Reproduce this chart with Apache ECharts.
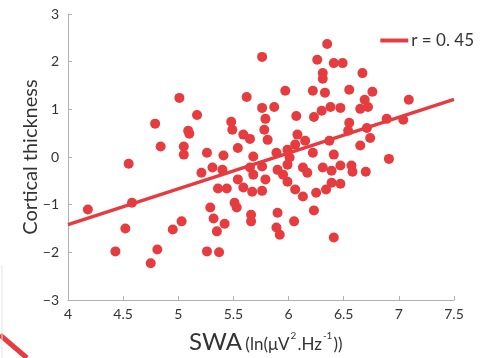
<!DOCTYPE html>
<html>
<head>
<meta charset="utf-8">
<script src="https://cdn.jsdelivr.net/npm/echarts@6/dist/echarts.min.js"></script>
<style>
  html, body { margin: 0; padding: 0; background: #fff; }
  #chart { width: 481px; height: 358px; }
</style>
</head>
<body>
<div id="chart"></div>
<script>
// SWA (x) vs cortical thickness (y)
const swa = [
  4.18, 4.43, 4.52, 4.55, 4.58, 4.75, 4.79, 4.81, 4.84, 4.95,
  5.01, 5.03, 5.05, 5.05, 5.09, 5.10, 5.17, 5.21, 5.26, 5.26,
  5.29, 5.31, 5.32, 5.35, 5.36, 5.37, 5.40, 5.41, 5.42, 5.44,
  5.48, 5.49, 5.51, 5.53, 5.54, 5.54, 5.59, 5.59, 5.62, 5.65,
  5.65, 5.66, 5.66, 5.67, 5.68, 5.68, 5.76, 5.76, 5.76, 5.76,
  5.78, 5.79, 5.79, 5.81, 5.87, 5.89, 5.89, 5.90, 5.90, 5.92,
  5.95, 5.97, 5.99, 5.99, 6.01, 5.99, 6.05, 6.06, 6.06, 6.07,
  6.08, 6.13, 6.13, 6.15, 6.17, 6.22, 6.23, 6.22, 6.23, 6.25,
  6.26, 6.30, 6.31, 6.31, 6.31, 6.33, 6.34, 6.35, 6.37, 6.38,
  6.39, 6.39, 6.41, 6.41, 6.41, 6.47, 6.47, 6.47, 6.49, 6.54,
  6.55, 6.55, 6.57, 6.58, 6.65, 6.65, 6.67, 6.69, 6.70, 6.71,
  6.72, 6.74, 6.76, 6.89, 6.91, 7.04, 7.09
]
const thickness = [
  -1.10, -1.98, -1.50, -0.14, -0.96, -2.23, 0.70, -1.94, 0.22, -1.52,
  1.24, -1.35, 0.22, 0.05, 0.55, 0.49, 0.88, -0.33, 0.09, -1.98,
  -1.06, -0.22, -1.29, -1.56, -0.66, -2.00, -0.27, 0.03, -1.40, -0.66,
  0.74, 0.57, -0.96, -1.06, 0.19, -0.47, 0.47, -0.64, 1.26, 0.38,
  -0.22, -1.21, -1.35, -0.73, 0.01, -0.37, 2.10, 1.03, -0.20, -0.71,
  0.57, 0.80, -0.47, 0.36, 1.05, 0.09, -1.48, -0.27, -1.17, -1.63,
  -0.37, 1.39, -0.52, 0.15, -0.01, -0.16, -1.35, 0.26, -0.68, 0.86,
  0.47, -0.22, -0.83, 0.34, -0.33, 0.09, 0.84, 1.39, -1.12, -0.75,
  2.04, 0.97, 1.76, 1.64, -0.22, 1.35, -0.68, 2.37, 0.34, 1.05,
  -0.29, -0.54, 1.97, 0.05, -1.69, 1.03, -0.18, -0.56, 1.97, 0.55,
  1.41, 0.72, -0.18, -0.31, 1.01, 0.24, 1.76, 1.20, -0.31, 0.61,
  1.05, 0.40, 1.37, 0.80, -0.04, 0.78, 1.20
]
// regression line end points
const fitX = [4, 7.5]
const fitY = [-1.42, 1.21]
const fitName = 'r = 0. 45'

const red = '#e63c3f'
const font = 'Lato'

const chart = echarts.init(document.getElementById('chart'), null, { renderer: 'canvas' })

const option = {
  animation: false,
  backgroundColor: '#fff',
  textStyle: { fontFamily: font },
  grid: { left: 68, right: 27, top: 14, bottom: 58 },
  legend: {
    data: [{ name: fitName, icon: 'rect' }],
    right: 2,
    top: 27,
    itemWidth: 28,
    itemHeight: 4,
    itemGap: 4,
    textStyle: { fontFamily: font, fontSize: 17, color: '#333', padding: [0, 0, 0, -2] }
  },
  xAxis: {
    type: 'value',
    min: 4,
    max: 7.5,
    interval: 0.5,
    axisLine: { onZero: false, lineStyle: { color: '#b0b0b0', width: 1 } },
    axisTick: { inside: true, length: 4, lineStyle: { color: '#b0b0b0' } },
    axisLabel: { fontSize: 14, color: '#333', margin: 7 },
    splitLine: { show: false }
  },
  yAxis: {
    type: 'value',
    min: -3,
    max: 3,
    interval: 1,
    name: 'Cortical thickness',
    nameLocation: 'middle',
    nameGap: 27,
    nameMoveOverlap: false,
    nameTextStyle: { fontSize: 20, color: '#333', fontFamily: font },
    axisLine: { show: true, onZero: false, lineStyle: { color: '#b0b0b0', width: 1 } },
    axisTick: { show: true, inside: true, length: 4, lineStyle: { color: '#b0b0b0' } },
    axisLabel: {
      fontSize: 14, color: '#333', margin: 9,
      formatter: v => String(v).replace('-', '\u2212')
    },
    splitLine: { show: false }
  },
  graphic: [
    {
      type: 'text',
      left: 189,
      top: 330,
      style: {
        text: '{big|SWA} {sm|(ln(μV}{sup|2}{sm|.Hz}{sup|-1}{sm|))}',
        rich: {
          big: { fontSize: 24, fontFamily: font, fill: '#333', verticalAlign: 'bottom' },
          sm: { fontSize: 17, fontFamily: font, fill: '#333', verticalAlign: 'bottom', padding: [0, 0, 1, 0] },
          sup: { fontSize: 10, fontFamily: font, fill: '#333', verticalAlign: 'bottom', padding: [0, 1, 13, 1] }
        }
      }
    },
    {
      type: 'line',
      shape: { x1: 0, y1: 335, x2: 27, y2: 358 },
      style: { stroke: red, lineWidth: 5 }
    },
    {
      type: 'line',
      shape: { x1: 2, y1: 265, x2: 2, y2: 358 },
      style: { stroke: '#e4e4e4', lineWidth: 1 }
    }
  ],
  series: [
    {
      type: 'scatter',
      data: swa.map((x, i) => [x, thickness[i]]),
      symbolSize: 10,
      itemStyle: { color: red, opacity: 1 },
      z: 2
    },
    {
      name: fitName,
      type: 'line',
      data: fitX.map((x, i) => [x, fitY[i]]),
      showSymbol: false,
      symbol: 'none',
      lineStyle: { color: red, width: 3.5 },
      itemStyle: { color: red },
      z: 3
    }
  ]
}

chart.setOption(option)
</script>
</body>
</html>
